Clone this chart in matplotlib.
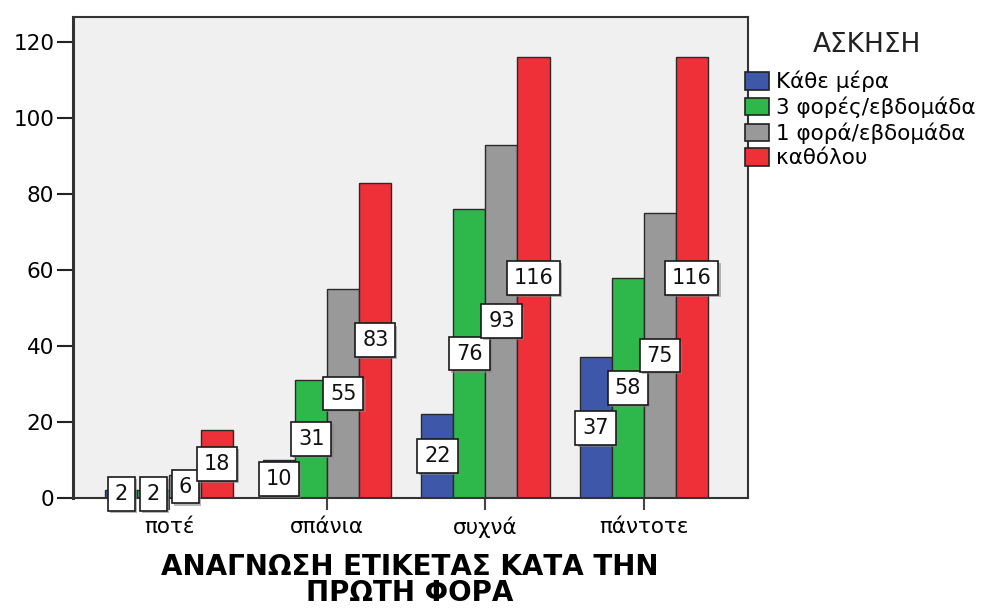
import numpy as np
import matplotlib
matplotlib.use("Agg")
import matplotlib.pyplot as plt
from matplotlib.patches import Patch
import matplotlib.patheffects as pe

plt.rcParams['font.family'] = ['DejaVu Sans']

categories = ["ποτέ", "σπάνια", "συχνά", "πάντοτε"]
series_names = ["Κάθε μέρα", "3 φορές/εβδομάδα", "1 φορά/εβδομάδα", "καθόλου"]
kathe_mera = [2, 10, 22, 37]
tris_fores = [2, 31, 76, 58]
mia_fora = [6, 55, 93, 75]
katholou = [18, 83, 116, 116]
yticks = [0, 20, 40, 60, 80, 100, 120]

series = [kathe_mera, tris_fores, mia_fora, katholou]
colors = ["#3F57A9", "#2EB74A", "#999999", "#EE3038"]

W, H = 993, 608
fig = plt.figure(figsize=(W / 100, H / 100), dpi=100)
ax = fig.add_axes([73 / W, 1 - 498 / H, (748 - 73) / W, (498 - 17) / H])
ax.set_facecolor("#F0F0F0")

x = np.arange(len(categories))
w = 0.2025
offsets = (np.arange(4) - 1.5) * w

for vals, col, off in zip(series, colors, offsets):
    ax.bar(x + off, vals, width=w, color=col, edgecolor="#2a2a2a",
           linewidth=1.0, zorder=2)

# value labels in boxes at mid-height of each bar
for vals, off in zip(series, offsets):
    for xi, v in zip(x, vals):
        t = ax.text(xi + off, v / 2, str(v), ha="center", va="center",
                    fontsize=15, color="#111111", zorder=5,
                    bbox=dict(boxstyle="square,pad=0.33", facecolor="white",
                              edgecolor="#1a1a1a", linewidth=1.2))
        t.get_bbox_patch().set_path_effects(
            [pe.SimplePatchShadow(offset=(1.5, -1.5), shadow_rgbFace="#888888",
                                  alpha=0.6), pe.Normal()])

ax.set_xlim(-0.608, 3.66)
ax.set_ylim(0, 126.6)
ax.set_yticks(yticks)
ax.set_yticklabels([str(t) for t in yticks], fontsize=15.5)
ax.set_xticks(x)
ax.set_xticklabels(categories, fontsize=15.5)
ax.tick_params(axis="y", length=11.5, width=1.5, color="#222222", pad=2)
ax.tick_params(axis="x", length=8.6, width=1.5, color="#444444", pad=5)
for s in ax.spines.values():
    s.set_linewidth(1.5)
    s.set_color("#333333")
ax.spines["left"].set_linewidth(2.2)

# axis title, two centred lines
fig.text(410 / W, 1 - 601 / H, "ΑΝΑΓΝΩΣΗ ΕΤΙΚΕΤΑΣ ΚΑΤΑ ΤΗΝ\nΠΡΩΤΗ ΦΟΡΑ",
         ha="center", va="baseline", multialignment="center",
         fontsize=20, fontweight="bold", linespacing=0.9)

# legend: title placed on its own, entries below
fig.text(867 / W, 1 - 45 / H, "ΑΣΚΗΣΗ", ha="center", va="center",
         fontsize=19, color="#222222")
handles = [Patch(facecolor=c, edgecolor="#222222", linewidth=1.2) for c in colors]
leg = fig.legend(handles, series_names, loc="upper left",
                 bbox_to_anchor=(745 / W, 1 - 71 / H), frameon=False,
                 fontsize=15.5, handlelength=1.1,
                 handleheight=0.85, handletextpad=0.35, labelspacing=0.2,
                 borderpad=0, borderaxespad=0)

fig.savefig("out.png", dpi=100)
